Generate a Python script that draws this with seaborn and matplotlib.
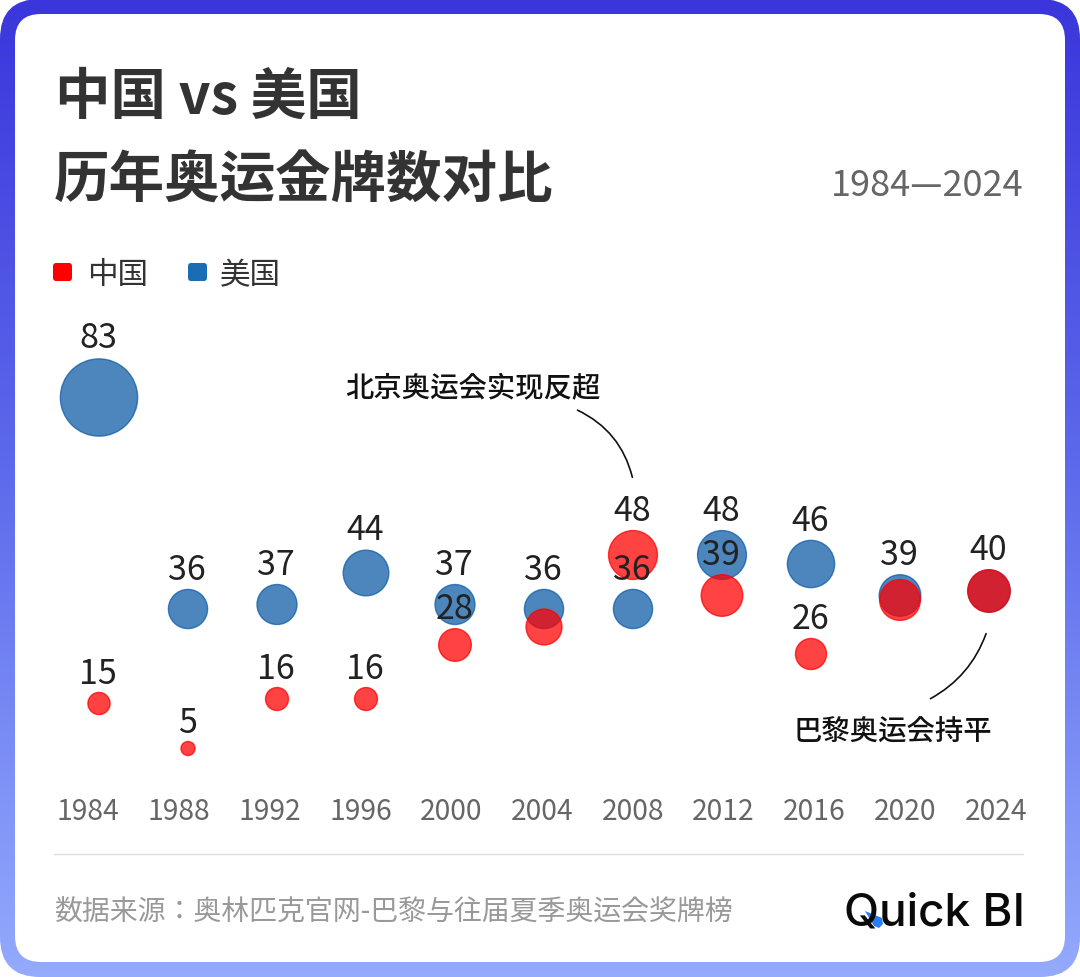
import os
import subprocess
import numpy as np
import pandas as pd
import seaborn as sns
import matplotlib
matplotlib.use("Agg")
import matplotlib.pyplot as plt
import matplotlib.font_manager as fm
from matplotlib.patches import FancyBboxPatch, Polygon, FancyArrowPatch
from matplotlib.colors import LinearSegmentedColormap

years = [1984, 1988, 1992, 1996, 2000, 2004, 2008, 2012, 2016, 2020, 2024]
usa_gold = [83, 36, 37, 44, 37, 36, 36, 48, 46, 39, 40]
china_gold = [15, 5, 16, 16, 28, 32, 48, 39, 26, 38, 40]
usa_labels = [83, 36, 37, 44, 37, 36, 36, 48, 46, 39, None]
china_labels = [15, 5, 16, 16, 28, None, 48, 39, 26, None, 40]


def locate_cjk():
    paths = set(fm.findSystemFonts())
    try:
        out = subprocess.run(["fc-list", ":", "file"], capture_output=True, text=True).stdout
        paths |= {l.split(":")[0].strip() for l in out.splitlines() if l.strip()}
    except Exception:
        pass
    for root in ("/usr/share/fonts", "/usr/local/share/fonts", os.path.expanduser("~/.fonts"),
                 os.path.expanduser("~/.local/share/fonts")):
        for d, _, fs in os.walk(root):
            paths |= {os.path.join(d, f) for f in fs}
    for p in sorted(paths):
        if "cjk" in os.path.basename(p).lower():
            try:
                fm.fontManager.addfont(p)
            except Exception:
                pass
    names = {f.name for f in fm.fontManager.ttflist if "CJK" in f.name}
    for pref in ("Noto Sans CJK SC", "Noto Sans CJK TC", "Noto Sans CJK JP", "Noto Sans CJK KR"):
        if pref in names:
            return pref
    return sorted(names)[0] if names else "DejaVu Sans"


CJK = locate_cjk()
RED, BLUE, BLUE_MARK = "#ff0000", "#1a6db3", "#0d5ca7"
W, H, DPI = 1080, 978, 100
sns.set_theme(style="white", rc={"font.family": [CJK, "DejaVu Sans"]})

fig = plt.figure(figsize=(W / DPI, H / DPI), dpi=DPI)
fig.patch.set_facecolor("white")


def add_axes_px(l, t, r, b, **kw):
    return fig.add_axes([l / W, 1 - b / H, (r - l) / W, (b - t) / H], **kw)


# frame
bg = fig.add_axes([0, 0, 1, 1], zorder=0)
bg.set_xlim(0, W); bg.set_ylim(H, 0); bg.axis("off")
cmap = LinearSegmentedColormap.from_list("frame", ["#3a36dc", "#5f6cec", "#93aafd"])
img = bg.imshow(np.linspace(0, 1, 256)[:, None], cmap=cmap, extent=[0, W, H, 0], aspect="auto", zorder=1)
clip = FancyBboxPatch((28, 28), W - 56, H - 56, boxstyle="round,pad=28,rounding_size=40",
                      transform=bg.transData, fc="none", ec="none")
bg.add_patch(clip)
img.set_clip_path(clip)
bg.add_patch(FancyBboxPatch((40, 40), W - 80, H - 80, boxstyle="round,pad=25,rounding_size=26",
                            fc="white", ec="none", zorder=2))

# chart
ax = add_axes_px(54, 320, 1024, 790, zorder=1)
ax.patch.set_alpha(0)
PX_PER_YEAR, PX_PER_GOLD = 89 / 4, 4.5
ax.set_xlim(1984 - 45 / PX_PER_YEAR, 1984 + 925 / PX_PER_YEAR)
ax.set_ylim((772 - 790) / PX_PER_GOLD, (772 - 320) / PX_PER_GOLD)


def diameter_px(v):
    return 10 + 0.81 * v


df = pd.concat([
    pd.DataFrame({"year": years, "gold": usa_gold, "country": "美国"}),
    pd.DataFrame({"year": years, "gold": china_gold, "country": "中国"}),
], ignore_index=True)
size_map = {v: (diameter_px(v) * 72 / DPI) ** 2 for v in df["gold"].unique()}
sns.scatterplot(data=df, x="year", y="gold", hue="country", size="gold", sizes=size_map,
                palette={"中国": RED, "美国": BLUE_MARK}, alpha=0.74, edgecolor="face",
                linewidth=1.0, legend=False, ax=ax, zorder=3)
ax.set_xlabel(""); ax.set_ylabel("")
ax.set_xticks([]); ax.set_yticks([])
sns.despine(ax=ax, left=True, bottom=True)

# value labels
for labels, values in ((usa_labels, usa_gold), (china_labels, china_gold)):
    for yr, lab, val in zip(years, labels, values):
        if lab is None:
            continue
        off = (1.076 * diameter_px(val) / 2 + 18.5) * 72 / DPI
        ax.annotate(str(lab), (yr, val), xytext=(-0.5, off), textcoords="offset points",
                    ha="center", va="center", fontsize=24.5, color="#222222",
                    family=CJK, zorder=5)

# tick labels (slightly wider spacing than the marks, as in the source)
ax_t = ax.twiny()
ax_t.patch.set_alpha(0)
ax_t.set_xlim(1984 + (54 - 88) / 22.7, 1984 + (1024 - 88) / 22.7)
ax_t.xaxis.set_ticks_position("bottom")
ax_t.set_xticks(years)
ax_t.set_xticklabels([str(y) for y in years], family=CJK, fontsize=20.3, color="#666666")
ax_t.tick_params(axis="x", length=0, pad=5.2)
for s in ax_t.spines.values():
    s.set_visible(False)

# overlay in pixels
ov = fig.add_axes([0, 0, 1, 1], zorder=5)
ov.set_xlim(0, W); ov.set_ylim(H, 0); ov.axis("off")
ov.text(55, 98, "中国 vs 美国", fontsize=40, fontweight="bold", color="#333333", va="center")
ov.text(54, 181, "历年奥运金牌数对比", fontsize=40, fontweight="bold", color="#333333", va="center")
ov.text(1024, 186, "1984—2024", fontsize=26, color="#666666", ha="right", va="center", family=CJK)

for x, c, t, tx in ((53, RED, "中国", 87), (188, BLUE, "美国", 220)):
    ov.add_patch(FancyBboxPatch((x + 3, 267), 13, 12, boxstyle="round,pad=3,rounding_size=3", fc=c, ec="none"))
    ov.text(tx, 276, t, fontsize=22, color="#333333", va="center")

ov.text(473, 388, "北京奥运会实现反超", fontsize=20.4, color="#111111", ha="center", va="center", fontweight="medium")
ov.text(893, 732, "巴黎奥运会持平", fontsize=20.4, color="#111111", ha="center", va="center", fontweight="medium")
ov.add_patch(FancyArrowPatch((575, 410), (633, 481), arrowstyle="-", connectionstyle="arc3,rad=-0.25",
                             lw=1.2, color="#111111"))
ov.add_patch(FancyArrowPatch((987, 632), (928, 701), arrowstyle="-", connectionstyle="arc3,rad=-0.2",
                             lw=1.2, color="#111111"))

ov.plot([54, 1023], [855, 855], color="#dddddd", lw=1)
ov.text(54, 913, "数据来源：奥林匹克官网-巴黎与往届夏季奥运会奖牌榜", fontsize=20.1, color="#999999", va="center")
ov.text(1025, 913, "Quick BI", fontsize=33, fontweight="medium", family="Inter", color="#0a0a0a", ha="right", va="center")
ov.add_patch(Polygon([[865, 912], [882, 919], [883, 925], [879, 929], [874, 927]], closed=True, fc="#2a7bf5", ec="none"))

fig.savefig("out.png", dpi=DPI)
